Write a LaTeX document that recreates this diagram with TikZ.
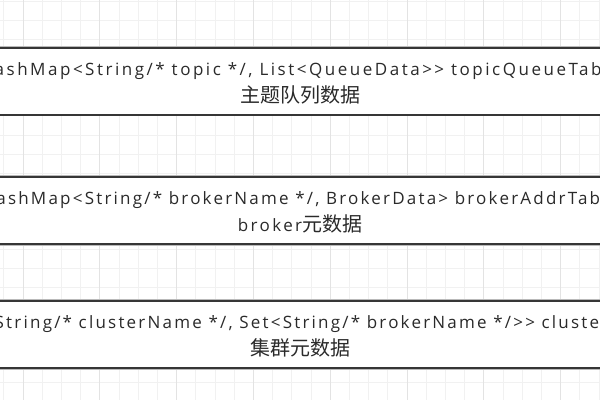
\documentclass[tikz,border=0pt]{standalone}
\usepackage{fontspec}
\setmainfont{Open Sans}[LetterSpace=14,Ligatures=TeXOff]
\newfontfamily\codeA{Open Sans}[LetterSpace=14.8,Ligatures=TeXOff]
\newfontfamily\codeB{Open Sans}[LetterSpace=13,Ligatures=TeXOff]
\newfontfamily\cjk{Noto Sans CJK SC}
\definecolor{txt}{HTML}{2A2A2A}
\definecolor{gminor}{HTML}{F1F1F1}
\definecolor{gmajor}{HTML}{E3E3E3}
\definecolor{bord}{HTML}{363636}
\tikzset{
  tablebox/.style={draw=bord, line width=2pt, fill=white, rectangle, minimum width=660pt, minimum height=67pt, inner sep=0pt,
    preaction={draw=gray!55, line width=3.6pt}},
  codeline/.style={anchor=base, inner sep=0pt, text=txt, font=\fontsize{17}{20}\selectfont},
  cnline/.style={anchor=base, inner sep=0pt, text=txt, font=\fontsize{20}{20}\selectfont},
}
\begin{document}
\begin{tikzpicture}[x=1pt,y=-1pt]
\useasboundingbox (0,0) rectangle (600,400);
\fill[white] (0,0) rectangle (600,400);
% grid
\foreach \k in {0,...,31} \draw[gminor, line width=1pt] (3.9+19.2*\k,0) -- (3.9+19.2*\k,400);
\foreach \k in {0,...,21} \draw[gminor, line width=1pt] (0,1.65+19.05*\k) -- (600,1.65+19.05*\k);
\foreach \k in {0,...,7} \draw[gmajor, line width=1pt] (23.1+76.8*\k,0) -- (23.1+76.8*\k,400);
% boxes
\node[tablebox] (b1) at (300,81) {};
\node[tablebox] (b2) at (300,210.5) {};
\node[tablebox] (b3) at (300,334.5) {};
% texts
\node[codeline] (t1) at ([yshift=6pt]b1.center) {\codeA HashMap<String/* topic */, List<QueueData>> topicQueueTable};
\node[cnline] (c1) at ([yshift=-21pt]b1.center) {\cjk 主题队列数据};
\node[codeline] (t2) at ([yshift=6pt]b2.center) {\codeB HashMap<String/* brokerName */, BrokerData> brokerAddrTable};
\node[cnline] (c2) at ([yshift=-21pt]b2.center) {{\fontsize{17}{20}\selectfont broker}{\cjk 元数据}};
\node[codeline] (t3) at ([yshift=6pt]b3.center) {\codeB HashMap<String/* clusterName */, Set<String/* brokerName */>> clusterAddrTable};
\node[cnline] (c3) at ([yshift=-21pt]b3.center) {\cjk 集群元数据};
\end{tikzpicture}
\end{document}
